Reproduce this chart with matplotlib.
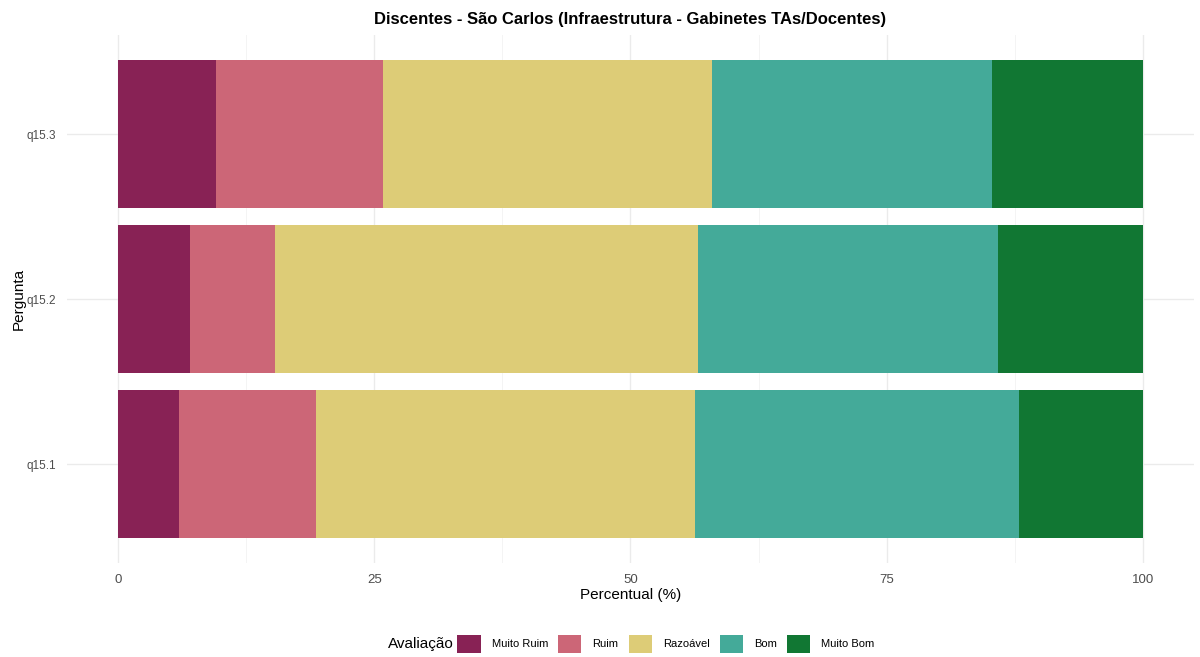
import matplotlib.pyplot as plt
import numpy as np
from matplotlib.patches import Patch

plt.rcParams['font.family'] = ['Liberation Sans', 'DejaVu Sans']

perguntas = ['q15.1', 'q15.2', 'q15.3']
categorias = ['Muito Ruim', 'Ruim', 'Razoável', 'Bom', 'Muito Bom']
cores = ['#882255', '#CC6677', '#DDCC77', '#44AA99', '#117733']

# percentuais por pergunta (q15.1, q15.2, q15.3)
muito_ruim = [5.9, 7.0, 9.5]
ruim = [13.4, 8.3, 16.3]
razoavel = [37.0, 41.3, 32.2]
bom = [31.6, 29.3, 27.3]
muito_bom = [12.1, 14.1, 14.7]

series = [muito_ruim, ruim, razoavel, bom, muito_bom]

fig = plt.figure(figsize=(12, 6.57), dpi=100)
ax = fig.add_axes([0.0558, 0.143, 0.9392, 0.8037])

y = np.arange(len(perguntas))
esquerda = np.zeros(len(perguntas))
for vals, cor, nome in zip(series, cores, categorias):
    vals = np.array(vals)
    ax.barh(y, vals, left=esquerda, height=0.9, color=cor, label=nome, zorder=2)
    esquerda += vals

ax.set_xlim(-5, 105)
ax.set_ylim(-0.6, len(perguntas) - 0.4)
ax.set_xticks([0, 25, 50, 75, 100])
ax.set_xticks([12.5, 37.5, 62.5, 87.5], minor=True)
ax.set_yticks(y)
ax.set_yticklabels(perguntas)
ax.grid(which='major', color='#EBEBEB', linewidth=1.0, zorder=0)
ax.grid(which='minor', axis='x', color='#F2F2F2', linewidth=0.6, zorder=0)
ax.tick_params(which='both', length=0, labelsize=8.5, labelcolor='#4D4D4D')
ax.tick_params(axis='y', pad=8)
ax.tick_params(axis='x', pad=8, labelsize=9.5)
for s in ax.spines.values():
    s.set_visible(False)

ax.set_xlabel('Percentual (%)', fontsize=11, labelpad=1)
ax.set_ylabel('Pergunta', fontsize=11, labelpad=0)
ax.set_title('Discentes - São Carlos (Infraestrutura - Gabinetes TAs/Docentes)',
             fontsize=12, fontweight='bold', pad=8)

handles = [Patch(facecolor=c, edgecolor='none') for c in cores]
fig.legend(handles, categorias, loc='center', bbox_to_anchor=(0.555, 0.02),
           ncol=5, frameon=False, fontsize=8, handlelength=2.1, handleheight=2.1,
           handletextpad=1.0, columnspacing=0.9, borderpad=0)
fig.text(0.3235, 0.02, 'Avaliação', fontsize=11, va='center', ha='left')

fig.savefig('out.png', dpi=100, facecolor='white')
